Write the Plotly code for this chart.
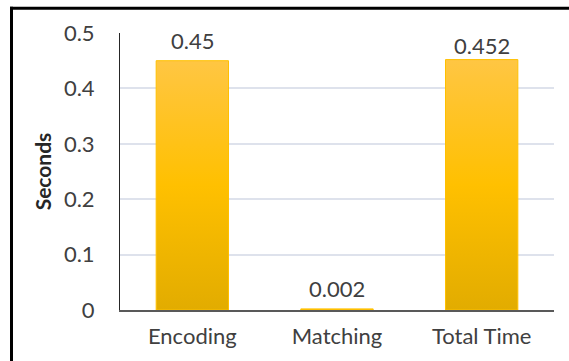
import plotly.graph_objects as go

categories = ["Encoding", "Matching", "Total Time"]
seconds = [0.45, 0.002, 0.452]
value_labels = ["0.45", "0.002", "0.452"]
label_gaps = [5, 5, -1]
y_ticks = [0, 0.1, 0.2, 0.3, 0.4, 0.5]
y_tick_labels = ["0", "0.1", "0.2", "0.3", "0.4", "0.5"]

W, H = 569, 361
L, R, T, B = 120, 15, 33, 49
BAR_HALF = 0.25
FONT = "Lato"
TXT = "#404040"

fig = go.Figure()

for i, v in enumerate(seconds):
    xs = [i - BAR_HALF, i + BAR_HALF, i + BAR_HALF, i - BAR_HALF, i - BAR_HALF]
    ys = [0, 0, v, v, 0]
    fig.add_trace(go.Scatter(
        x=xs, y=ys, mode="lines", fill="toself",
        line=dict(color="#FFC000", width=1),
        fillgradient=dict(type="vertical",
                          colorscale=[[0, "#E2AC00"], [0.5, "#FFC000"], [1, "#FFC643"]]),
        hoverinfo="skip", showlegend=False,
    ))

annotations = [
    dict(x=i, y=v, xref="x", yref="y", text=t, showarrow=False,
         yanchor="bottom", yshift=g,
         font=dict(family=FONT, size=22, color=TXT))
    for i, (v, t, g) in enumerate(zip(seconds, value_labels, label_gaps))
]

def px_x(p):
    return (p - L) / (W - L - R)

def px_y(p):
    return (H - B - p) / (H - T - B)

fig.update_layout(
    width=W, height=H,
    margin=dict(l=L, r=R, t=T, b=B),
    paper_bgcolor="white", plot_bgcolor="white",
    font=dict(family=FONT, color=TXT),
    annotations=annotations,
    xaxis=dict(
        range=[-0.5, len(categories) - 0.5],
        tickvals=list(range(len(categories))), ticktext=categories,
        tickfont=dict(family=FONT, size=22, color=TXT),
        showgrid=False, zeroline=False,
        showline=True, linecolor="#595959", linewidth=2,
        ticks="", ticklabelstandoff=6, fixedrange=True,
    ),
    yaxis=dict(
        range=[0, 0.5],
        tickvals=y_ticks, ticktext=y_tick_labels,
        tickfont=dict(family=FONT, size=22, color=TXT),
        showgrid=True, gridcolor="#DEE2EC", gridwidth=2,
        zeroline=False,
        showline=True, linecolor="#262626", linewidth=1,
        ticks="", ticklabelstandoff=20,
        title=dict(text="<b>Seconds</b>", font=dict(family=FONT, size=21, color="#262626"),
                   standoff=6),
        fixedrange=True,
    ),
    shapes=[
        dict(type="line", xref="paper", yref="paper",
             x0=px_x(10), x1=px_x(W + 5), y0=px_y(8), y1=px_y(8),
             line=dict(color="black", width=3)),
        dict(type="line", xref="paper", yref="paper",
             x0=px_x(11.5), x1=px_x(11.5), y0=px_y(6.5), y1=px_y(H + 5),
             line=dict(color="black", width=3)),
    ],
)

fig.write_html("out.html")
